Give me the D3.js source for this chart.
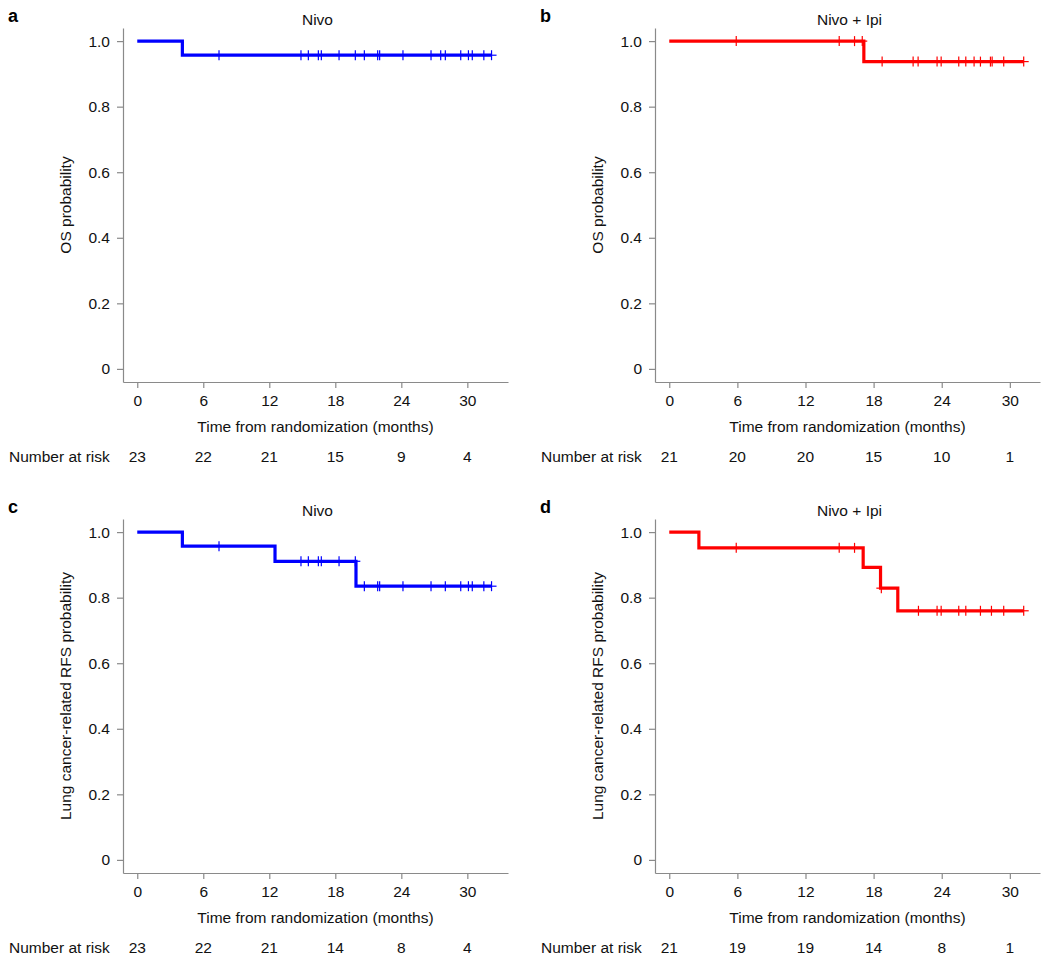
<!DOCTYPE html>
<html><head><meta charset="utf-8">
<script src="https://cdn.jsdelivr.net/npm/d3@7"></script>
<style>
html,body{margin:0;padding:0;background:#fff;}
svg{display:block;font-family:"Liberation Sans",Arial,Helvetica,sans-serif;}
</style></head>
<body>
<svg id="chart" width="1050" height="967"></svg>
<script>
// ---- data ----
const xTicks = [0, 6, 12, 18, 24, 30];
const yTicks = [0, 0.2, 0.4, 0.6, 0.8, 1.0];
const xTitle = "Time from randomization (months)";

// Panel a: Nivo, OS
const aTitle = "Nivo";
const aStepTimes = [0, 4.1];
const aStepSurv = [1.0, 0.957];
const aEnd = 32.2;
const aCensor = [7.43, 14.88, 15.55, 16.46, 16.73, 18.34, 19.82, 20.64, 21.85, 22.03, 24.15, 26.7, 27.58, 28.0, 29.4, 30.1, 30.45, 31.5, 32.2];
const aRisk = [23, 22, 21, 15, 9, 4];

// Panel b: Nivo + Ipi, OS
const bTitle = "Nivo + Ipi";
const bStepTimes = [0, 17.14];
const bStepSurv = [1.0, 0.9375];
const bEnd = 31.22;
const bCensor = [5.9, 14.97, 16.32, 17.0, 18.75, 21.48, 21.92, 23.59, 23.95, 25.5, 26.12, 26.85, 27.41, 28.29, 28.44, 29.46, 31.22];
const bRisk = [21, 20, 20, 15, 10, 1];

// Panel c: Nivo, lung cancer-related RFS
const cTitle = "Nivo";
const cStepTimes = [0, 4.1, 12.52, 19.88];
const cStepSurv = [1.0, 0.957, 0.911, 0.835];
const cEnd = 32.2;
const cCensor = [7.43, 14.88, 15.55, 16.46, 16.73, 18.34, 19.82, 20.64, 21.85, 22.03, 24.15, 26.7, 28.0, 29.4, 30.1, 30.45, 31.5, 32.2];
const cRisk = [23, 22, 21, 14, 8, 4];

// Panel d: Nivo + Ipi, lung cancer-related RFS
const dTitle = "Nivo + Ipi";
const dStepTimes = [0, 2.61, 17.08, 18.61, 20.13];
const dStepSurv = [1.0, 0.952, 0.8925, 0.829, 0.760];
const dEnd = 31.22;
const dCensor = [5.9, 14.97, 16.32, 18.68, 21.95, 23.59, 23.95, 25.5, 26.12, 27.41, 28.38, 29.46, 31.22];
const dRisk = [21, 19, 19, 14, 8, 1];

const panels = [
  {letter:"a", title:aTitle, ylab:"OS probability", times:aStepTimes, surv:aStepSurv, end:aEnd, censor:aCensor, risk:aRisk, color:"#0000ff", col:0, row:0, xmax:32.4},
  {letter:"b", title:bTitle, ylab:"OS probability", times:bStepTimes, surv:bStepSurv, end:bEnd, censor:bCensor, risk:bRisk, color:"#ff0000", col:1, row:0, xmax:31.4},
  {letter:"c", title:cTitle, ylab:"Lung cancer-related RFS probability", times:cStepTimes, surv:cStepSurv, end:cEnd, censor:cCensor, risk:cRisk, color:"#0000ff", col:0, row:1, xmax:32.4},
  {letter:"d", title:dTitle, ylab:"Lung cancer-related RFS probability", times:dStepTimes, surv:dStepSurv, end:dEnd, censor:dCensor, risk:dRisk, color:"#ff0000", col:1, row:1, xmax:31.4}
];

// ---- layout ----
const svg = d3.select("#chart");
const colX = [123, 655];     // y-axis x position
const axisW = 385;
const rowY = [0, 491];        // row offset
const plotTop = 28, plotBottom = 382;
const axisColor = "#8a8a8a";
const fs = 15.5;

panels.forEach(p => {
  const x0 = colX[p.col], oy = rowY[p.row];
  const g = svg.append("g").attr("transform", `translate(0,${oy})`);
  const ext = 0.04 * p.xmax;
  const x = d3.scaleLinear().domain([-ext, p.xmax + ext]).range([x0, x0 + axisW]);
  const y = d3.scaleLinear().domain([-0.04, 1.04]).range([plotBottom, plotTop]);

  // axes
  const ya = g.append("g").attr("transform", `translate(${x0},0)`)
    .call(d3.axisLeft(y).tickValues(yTicks).tickSize(6).tickPadding(7).tickSizeOuter(0)
      .tickFormat(d => d === 0 ? "0" : d3.format(".1f")(d)));
  const xa = g.append("g").attr("transform", `translate(0,${plotBottom})`)
    .call(d3.axisBottom(x).tickValues(xTicks).tickSize(6).tickPadding(7).tickSizeOuter(0));
  [ya, xa].forEach(a => {
    a.select(".domain").attr("stroke", axisColor).attr("stroke-width", 1.2);
    a.selectAll(".tick line").attr("stroke", axisColor).attr("stroke-width", 1.2);
    a.selectAll(".tick text").attr("fill", "#111").style("font-size", fs + "px").style("font-family", "Liberation Sans, Arial, sans-serif");
  });

  // titles
  g.append("text").attr("x", x0 + axisW / 2 + 2).attr("y", 25).attr("text-anchor", "middle")
    .style("font-size", fs + "px").attr("fill", "#111").text(p.title);
  g.append("text").attr("x", x0 + axisW / 2).attr("y", 432).attr("text-anchor", "middle")
    .style("font-size", fs + "px").attr("fill", "#111").text(xTitle);
  g.append("text").attr("transform", `translate(${x0 - 52},${(y(0) + y(1)) / 2}) rotate(-90)`)
    .attr("text-anchor", "middle").style("font-size", fs + "px").attr("fill", "#111").text(p.ylab);
  g.append("text").attr("x", p.col === 0 ? 8 : 540).attr("y", 22)
    .style("font-size", "18px").style("font-weight", "bold").attr("fill", "#000").text(p.letter);

  // number at risk
  g.append("text").attr("x", p.col === 0 ? 9 : 541).attr("y", 462)
    .style("font-size", fs + "px").attr("fill", "#111").text("Number at risk");
  g.selectAll(".risk").data(p.risk).enter().append("text")
    .attr("x", (d, i) => x(xTicks[i])).attr("y", 462).attr("text-anchor", "middle")
    .style("font-size", fs + "px").attr("fill", "#111").text(d => d);

  // KM step curve
  const pts = p.times.map((t, i) => [t, p.surv[i]]);
  pts.push([p.end, p.surv[p.surv.length - 1]]);
  g.append("path").datum(pts)
    .attr("d", d3.line().x(d => x(d[0])).y(d => y(d[1])).curve(d3.curveStepAfter))
    .attr("fill", "none").attr("stroke", p.color).attr("stroke-width", 3.2);

  // censor marks
  const survAt = t => { let s = p.surv[0]; p.times.forEach((tt, i) => { if (tt <= t) s = p.surv[i]; }); return s; };
  const cm = g.append("g").attr("stroke", p.color).attr("stroke-width", 1.2);
  p.censor.forEach(t => {
    const cx = x(t), cy = y(survAt(t));
    cm.append("line").attr("x1", cx).attr("x2", cx).attr("y1", cy - 5).attr("y2", cy + 5);
    cm.append("line").attr("x1", cx - 5).attr("x2", cx + 5).attr("y1", cy).attr("y2", cy);
  });
});
</script>
</body></html>
